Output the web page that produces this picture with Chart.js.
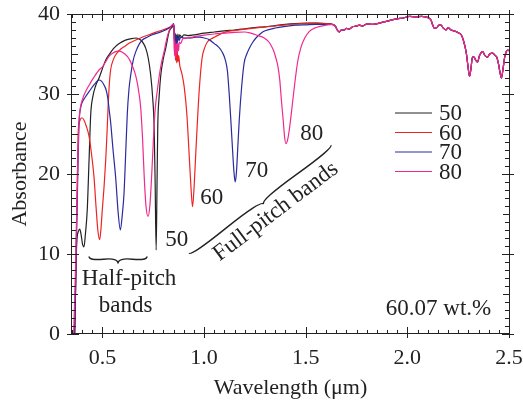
<!DOCTYPE html>
<html><head><meta charset="utf-8">
<script src="https://cdn.jsdelivr.net/npm/chart.js@4/dist/chart.umd.min.js"></script>
<style>html,body{margin:0;padding:0;background:#fff;}</style>
</head><body>
<canvas id="c" width="523" height="401"></canvas>
<script>
// ---- data ----
const seriesLabels = ['50', '60', '70', '80'];
const xTickVals = [0.5, 1.0, 1.5, 2.0, 2.5];
const yTickVals = [0, 10, 20, 30, 40];

const wl50 = [0.362,0.366,0.370,0.375,0.381,0.388,0.395,0.402,0.409,0.416,0.425,0.434,0.442,0.452,0.466,0.483,0.500,0.515,0.532,0.555,0.582,0.610,0.639,0.665,0.688,0.702,0.713,0.725,0.737,0.747,0.754,0.759,0.764,0.768,0.772,0.779,0.787,0.800,0.811,0.828,0.844,0.851,0.854,0.857,0.860,0.863,0.867,0.871,0.875,0.880,0.890,0.900,0.920,0.950,1.00,1.05,1.10,1.15,1.20,1.25,1.30,1.35,1.40,1.45,1.50,1.55,1.60];
const abs50 = [0,4,9,12.0,12.8,13.1,12.4,11.2,10.9,12.5,15.5,21.8,27.4,29.6,31.0,32.0,33.2,34.2,34.9,35.7,36.3,36.7,36.9,37.0,36.75,36.3,35.7,34.5,32.4,29.5,26.0,19.0,10.5,18.0,26.0,29.8,32.4,34.5,35.7,37.8,38.4,38.6,36.6,37.6,36.2,37.4,36.5,37.5,36.8,37.4,37.1,37.4,37.3,37.4,37.6,37.75,37.9,38.0,38.15,38.3,38.4,38.55,38.7,38.8,38.85,38.85,38.8];

const wl60 = [0.364,0.369,0.374,0.378,0.381,0.388,0.395,0.401,0.410,0.420,0.434,0.446,0.458,0.468,0.477,0.486,0.492,0.499,0.508,0.516,0.522,0.527,0.533,0.540,0.552,0.565,0.585,0.606,0.635,0.664,0.695,0.729,0.760,0.795,0.828,0.848,0.852,0.854,0.857,0.859,0.862,0.865,0.868,0.871,0.875,0.880,0.890,0.902,0.915,0.926,0.935,0.943,0.951,0.959,0.968,0.976,0.990,1.003,1.016,1.035,1.05,1.10,1.15,1.20,1.25,1.30,1.35,1.40,1.45,1.50,1.55,1.60];
const abs60 = [0,8,16,22,25.5,26.6,27.0,27.0,26.7,26.0,24.7,22.5,19.7,16.0,13.0,11.8,13.0,15.5,18.5,21.8,25.0,28.0,31.0,33.0,34.2,34.9,35.5,35.9,36.4,36.75,37.1,37.4,37.7,38.0,38.3,38.6,38.4,35.0,36.5,34.2,35.8,33.9,35.5,34.0,34.8,33.6,32.6,30.9,27.5,22.6,18.5,15.9,18.5,22.6,27.0,30.5,34.5,35.8,36.5,36.9,37.1,37.7,37.95,38.1,38.25,38.4,38.5,38.65,38.75,38.8,38.85,38.8];

const wl70 = [0.363,0.368,0.372,0.377,0.381,0.385,0.392,0.401,0.415,0.434,0.460,0.483,0.495,0.508,0.518,0.526,0.533,0.540,0.552,0.565,0.577,0.588,0.597,0.606,0.614,0.622,0.630,0.639,0.651,0.664,0.680,0.696,0.720,0.745,0.780,0.811,0.830,0.845,0.849,0.852,0.855,0.858,0.861,0.864,0.868,0.872,0.877,0.885,0.900,0.930,0.960,0.980,1.000,1.025,1.050,1.070,1.090,1.105,1.115,1.124,1.132,1.140,1.147,1.153,1.159,1.166,1.173,1.185,1.197,1.210,1.222,1.240,1.255,1.280,1.300,1.350,1.400,1.450,1.500,1.550,1.600];
const abs70 = [0,6,12,18,23,26.5,28.2,29.0,29.6,30.3,31.2,31.75,31.6,31.1,30.5,29.5,28.0,26.5,23.0,19.5,15.2,13.0,14.8,17.6,22.5,27.5,30.5,32.4,34.2,35.3,36.2,36.75,37.1,37.4,37.7,38.0,38.3,38.6,38.8,38.5,36.2,37.5,36.0,37.2,36.3,37.2,36.7,37.1,37.0,37.0,37.1,37.1,37.0,36.8,36.3,35.9,35.2,34.2,32.8,29.8,26.5,23.0,20.2,19.0,20.2,23.5,26.8,31.0,33.9,35.0,35.7,36.5,37.0,37.6,37.9,38.25,38.45,38.6,38.65,38.7,38.7];

const wl80 = [0.358,0.363,0.368,0.373,0.378,0.382,0.386,0.392,0.401,0.415,0.434,0.458,0.483,0.500,0.515,0.532,0.550,0.565,0.580,0.600,0.622,0.635,0.647,0.660,0.672,0.680,0.688,0.697,0.705,0.714,0.724,0.733,0.742,0.751,0.759,0.770,0.787,0.803,0.820,0.836,0.848,0.852,0.854,0.857,0.860,0.863,0.866,0.870,0.874,0.878,0.885,0.895,0.920,0.960,1.00,1.05,1.10,1.15,1.20,1.23,1.26,1.296,1.315,1.329,1.342,1.353,1.362,1.372,1.381,1.389,1.396,1.403,1.411,1.419,1.430,1.444,1.460,1.476,1.495,1.517,1.540,1.570,1.600];
const abs80 = [0,4,9,15,21,25,27.2,28.4,29.3,30.2,31.1,32.1,33.0,33.4,34.0,34.7,35.1,35.3,35.4,35.2,34.7,34.2,33.5,32.6,31.3,30.0,28.3,24.5,19.8,16.0,14.7,16.0,19.8,24.5,28.0,30.5,33.5,35.3,37.3,38.4,38.7,38.3,34.8,36.6,34.5,36.2,35.0,36.4,35.4,36.5,36.3,36.9,37.0,37.2,37.35,37.5,37.6,37.7,37.75,37.6,37.35,37.0,36.6,36.1,35.4,34.5,33.6,31.8,29.0,26.75,24.6,23.8,24.3,25.5,27.8,30.9,34.0,35.8,37.0,37.8,38.2,38.45,38.6];

// common long-wavelength part (all four spectra coincide here)
const tailWl = [1.63,1.645,1.655,1.665,1.675,1.69,1.70,1.714,1.73,1.75,1.764,1.78,1.80,1.83,1.862,1.88,1.90,1.93,1.95,1.98,2.01,2.04,2.07,2.09,2.105,2.117,2.125,2.133,2.145,2.155,2.166,2.175,2.19,2.20,2.21,2.225,2.24,2.255,2.265,2.278,2.29,2.298,2.306,2.313,2.32,2.328,2.337,2.345,2.355,2.37,2.382,2.394,2.405,2.42,2.432,2.44,2.448,2.455,2.463,2.47,2.478,2.487,2.495,2.5];
const tailAbs = [38.7,38.5,38.0,37.75,38.0,38.0,38.2,38.1,38.4,38.5,38.6,38.5,38.75,38.7,38.85,39.0,39.1,39.3,39.4,39.5,39.7,39.65,39.7,39.65,39.5,39.2,38.6,38.2,38.3,38.6,38.6,38.3,38.0,38.3,38.1,37.9,37.8,37.6,37.4,36.5,35.1,33.5,32.2,33.2,34.6,34.6,34.2,34.0,34.8,35.3,34.8,34.6,35.0,35.1,34.8,34.6,33.8,32.8,32.0,33.0,34.5,35.3,35.5,35.4];

// ---- styling ----
const colors = ['#222222', '#ee2424', '#2b2b9e', '#f02a8c'];
const FONT = '"Liberation Serif", "Times New Roman", serif';
const INK = '#222';

function toPoints(wl, ab) {
  const pts = wl.map((x, i) => ({x: x, y: ab[i]}));
  tailWl.forEach((x, i) => pts.push({x: x, y: tailAbs[i]}));
  return pts;
}
const heads = [[wl50, abs50], [wl60, abs60], [wl70, abs70], [wl80, abs80]];
const datasets = heads.map((h, i) => ({
  label: seriesLabels[i],
  data: toPoints(h[0], h[1]),
  borderColor: colors[i],
  borderWidth: 1.2,
  pointRadius: 0,
  cubicInterpolationMode: 'monotone',
  fill: false,
  order: 3 - i
}));

// annotation positions in data units
const notes = [
  {t: '50', x: 0.865, y: 11.75},
  {t: '60', x: 1.037, y: 17.0},
  {t: '70', x: 1.259, y: 20.4},
  {t: '80', x: 1.530, y: 25.0},
  {t: 'Half-pitch', x: 0.631, y: 6.9},
  {t: 'bands', x: 0.614, y: 3.5},
  {t: '60.07 wt.%', x: 2.153, y: 3.1}
];
const fullPitch = {t: 'Full-pitch bands', x: 1.353, y: 15.3};
const braceHalf = {x1: 0.434, y1: 9.7, x2: 0.719, y2: 9.7, w: 7};
const braceFull = {x1: 0.926, y1: 10.1, x2: 1.624, y2: 23.6, w: 6};

function brace(ctx, x1, y1, x2, y2, w, q) {
  let dx = x1 - x2, dy = y1 - y2;
  const len = Math.hypot(dx, dy); dx /= len; dy /= len;
  const qx1 = x1 + q*w*dy, qy1 = y1 - q*w*dx;
  const qx2 = (x1 - .25*len*dx) + (1-q)*w*dy, qy2 = (y1 - .25*len*dy) - (1-q)*w*dx;
  const tx1 = (x1 - .5*len*dx) + w*dy, ty1 = (y1 - .5*len*dy) - w*dx;
  const qx3 = x2 + q*w*dy, qy3 = y2 - q*w*dx;
  const qx4 = (x1 - .75*len*dx) + (1-q)*w*dy, qy4 = (y1 - .75*len*dy) - (1-q)*w*dx;
  ctx.beginPath();
  ctx.moveTo(x1, y1); ctx.quadraticCurveTo(qx1, qy1, qx2, qy2);
  ctx.quadraticCurveTo(2*qx2 - qx1, 2*qy2 - qy1, tx1, ty1);
  ctx.moveTo(x2, y2); ctx.quadraticCurveTo(qx3, qy3, qx4, qy4);
  ctx.quadraticCurveTo(2*qx4 - qx3, 2*qy4 - qy3, tx1, ty1);
  ctx.stroke();
}

const decor = {
  id: 'decor',
  afterDatasetsDraw(chart) {
    const ctx = chart.ctx, xs = chart.scales.x, ys = chart.scales.y, a = chart.chartArea;
    ctx.save();
    // frame
    ctx.strokeStyle = INK; ctx.lineWidth = 1;
    ctx.strokeRect(Math.round(a.left) - 0.5, Math.round(a.top) + 0.5, Math.round(a.right - a.left) + 1, Math.round(a.bottom - a.top) - 1);
    // ticks (inward, majors crossing)
    ctx.beginPath();
    for (let k = 0; ; k++) {
      const v = 0.35 + k * 0.05;
      if (v > 2.5001) break;
      const p = Math.round(xs.getPixelForValue(v)) + 0.5;
      const major = Math.abs(v * 2 - Math.round(v * 2)) < 1e-6;
      const inn = major ? 7 : 4, out = major ? 4 : 0;
      ctx.moveTo(p, a.bottom + out); ctx.lineTo(p, a.bottom - inn);
      ctx.moveTo(p, a.top - out); ctx.lineTo(p, a.top + inn);
    }
    for (let v = 0; v <= 40; v++) {
      const p = Math.round(ys.getPixelForValue(v)) + 0.5;
      const major = v % 10 === 0, mid = v % 5 === 0;
      const inn = major ? 7 : (mid ? 6 : 4), out = major ? 5 : 0;
      ctx.moveTo(a.left - out, p); ctx.lineTo(a.left + inn, p);
      ctx.moveTo(a.right + out, p); ctx.lineTo(a.right - inn, p);
    }
    ctx.stroke();
    // annotations
    ctx.fillStyle = INK;
    ctx.font = '23px ' + FONT;
    ctx.textAlign = 'center'; ctx.textBaseline = 'middle';
    notes.forEach(n => ctx.fillText(n.t, xs.getPixelForValue(n.x), ys.getPixelForValue(n.y)));
    ctx.save();
    ctx.translate(xs.getPixelForValue(fullPitch.x), ys.getPixelForValue(fullPitch.y));
    ctx.rotate(-37 * Math.PI / 180);
    ctx.fillText(fullPitch.t, 0, 0);
    ctx.restore();
    ctx.lineWidth = 1.4;
    [braceHalf, braceFull].forEach(b => brace(ctx,
      xs.getPixelForValue(b.x1), ys.getPixelForValue(b.y1),
      xs.getPixelForValue(b.x2), ys.getPixelForValue(b.y2), b.w, 0.6));
    // legend
    chart.data.datasets.forEach((d, i) => {
      const y = a.top + 99 + i * 19.5;
      ctx.strokeStyle = d.borderColor; ctx.lineWidth = 1.2;
      ctx.beginPath(); ctx.moveTo(a.left + 323, y); ctx.lineTo(a.left + 360, y); ctx.stroke();
      ctx.fillStyle = INK; ctx.textAlign = 'left';
      ctx.fillText(d.label, a.left + 367, y + 1);
    });
    ctx.restore();
  }
};

new Chart(document.getElementById('c'), {
  type: 'line',
  data: {datasets: datasets},
  options: {
    responsive: false,
    animation: false,
    events: [],
    layout: {padding: {left: 0, top: 14, right: 14, bottom: 0}},
    plugins: {legend: {display: false}, tooltip: {enabled: false}},
    scales: {
      x: {
        type: 'linear', min: 0.35, max: 2.5,
        afterBuildTicks: s => { s.ticks = xTickVals.map(v => ({value: v})); },
        afterFit: s => { s.height = 67; s.paddingLeft = 0; s.paddingRight = 0; },
        grid: {display: false, drawTicks: false},
        border: {display: false},
        ticks: {color: INK, font: {family: FONT, size: 22}, padding: 11, maxRotation: 0, autoSkip: false,
                callback: v => Number(v).toFixed(1)},
        title: {display: true, text: 'Wavelength (μm)', color: INK, font: {family: FONT, size: 22}, padding: {top: 0, bottom: 0}}
      },
      y: {
        min: 0, max: 40,
        afterBuildTicks: s => { s.ticks = yTickVals.map(v => ({value: v})); },
        afterFit: s => { s.width = 72; s.paddingTop = 0; s.paddingBottom = 0; },
        grid: {display: false, drawTicks: false},
        border: {display: false},
        ticks: {color: INK, font: {family: FONT, size: 22}, padding: 12, callback: v => String(v)},
        title: {display: true, text: 'Absorbance', color: INK, font: {family: FONT, size: 22}, padding: {top: 7, bottom: 0}}
      }
    }
  },
  plugins: [decor]
});
</script>
</body></html>
